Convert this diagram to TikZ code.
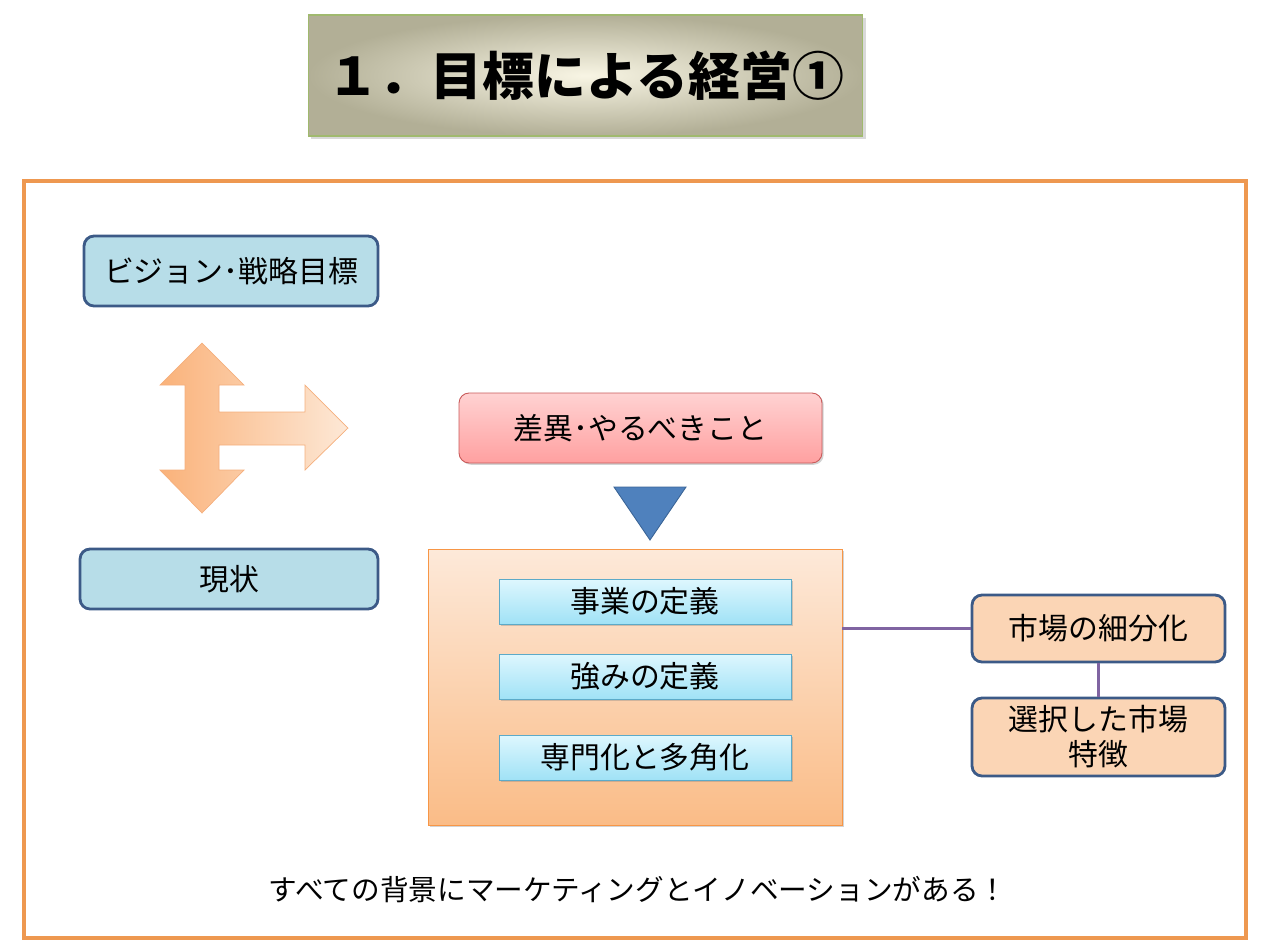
\documentclass[tikz,border=0pt]{standalone}
\usepackage{fontspec}
\setmainfont{Noto Sans CJK JP}
\usetikzlibrary{shadows}

\definecolor{framecol}{RGB}{238,152,80}
\definecolor{navy}{RGB}{60,90,135}
\definecolor{paleblue}{RGB}{183,221,232}
\definecolor{peach}{RGB}{251,213,181}
\definecolor{linkcol}{RGB}{128,100,162}
\definecolor{triblue}{RGB}{79,129,189}

\begin{document}
\begin{tikzpicture}[x=0.02cm, y=-0.02cm,
    panel/.style={draw=navy, line width=1.6pt, rounded corners=0.2cm, inner sep=0pt, font=\fontsize{17}{20}\selectfont},
    item/.style={draw={rgb,255:red,92;green,170;blue,200}, line width=0.5pt, top color={rgb,255:red,222;green,247;blue,254}, bottom color={rgb,255:red,160;green,226;blue,246},
      drop shadow={opacity=0.35, shadow xshift=1pt, shadow yshift=-1pt}, minimum width=5.84cm, minimum height=0.9cm, inner sep=0pt, font=\fontsize{17}{20}\selectfont},
    link/.style={draw=linkcol, line width=2pt}]
  \useasboundingbox (0,0) rectangle (1262,951);
  % title
  \node[draw={rgb,255:red,160;green,185;blue,110}, line width=0.6pt, inner color={rgb,255:red,248;green,245;blue,228}, outer color={rgb,255:red,178;green,175;blue,150},
    drop shadow={opacity=0.3, shadow xshift=1.5pt, shadow yshift=-1.5pt}, minimum width=11.1cm, minimum height=2.42cm, inner sep=0pt]
    (title) at (585.5,75.5) {\fontsize{29.5}{32}\selectfont\bfseries １．目標による経営①};
  % frame
  \draw[framecol, line width=1.8pt] (24,181) rectangle (1246,938);

  \node[panel, fill=paleblue, minimum width=5.88cm, minimum height=1.4cm] (vision) at (231,271) {ビジョン･戦略目標};
  \node[panel, fill=paleblue, minimum width=5.96cm, minimum height=1.2cm] (now) at (229,579) {現状};

  % arrow between vision and now
  \draw[draw={rgb,255:red,245;green,175;blue,125}, line width=0.4pt, left color={rgb,255:red,250;green,178;blue,122}, right color={rgb,255:red,253;green,232;blue,214}]
    (202,343) -- (244,385) -- (219,385) -- (219,412) -- (305,412) -- (305,385) -- (348,428) -- (305,470) -- (305,445) -- (219,445)
    -- (219,470) -- (244,470) -- (202,513) -- (160,470) -- (185,470) -- (185,385) -- (160,385) -- cycle;

  \node[draw={rgb,255:red,200;green,90;blue,90}, line width=0.5pt, rounded corners=0.2cm, top color={rgb,255:red,255;green,210;blue,210}, bottom color={rgb,255:red,255;green,160;blue,160},
    drop shadow={opacity=0.35, shadow xshift=1pt, shadow yshift=-1pt}, minimum width=7.26cm, minimum height=1.4cm, inner sep=0pt, font=\fontsize{17}{20}\selectfont]
    (gap) at (640.5,428) {差異･やるべきこと};
  \draw[draw={rgb,255:red,58;green,100;blue,150}, line width=0.5pt, fill=triblue] (614,487) -- (686,487) -- (650,540) -- cycle;

  \node[draw={rgb,255:red,247;green,150;blue,70}, line width=0.5pt, top color={rgb,255:red,253;green,233;blue,217}, bottom color={rgb,255:red,250;green,188;blue,135},
    drop shadow={opacity=0.35, shadow xshift=1pt, shadow yshift=-1pt}, minimum width=8.28cm, minimum height=5.52cm, inner sep=0pt]
    (core) at (635,687) {};
  \node[item] (biz) at (645,601.5) {事業の定義};
  \node[item] (strength) at (645,676.5) {強みの定義};
  \node[item] (spec) at (645,757.5) {専門化と多角化};

  \node[panel, fill=peach, minimum width=5.06cm, minimum height=1.34cm] (seg) at (1098.5,628.5) {市場の細分化};
  \node[panel, fill=peach, minimum width=5.06cm, minimum height=1.56cm, align=center] (sel) at (1098.5,737) {選択した市場\\特徴};
  \draw[link] (core.east |- seg.west) -- (seg.west);
  \draw[link] (seg.south) -- (sel.north);

  \node[font=\fontsize{16.3}{19}\selectfont] (note) at (638,890) {すべての背景にマーケティングとイノベーションがある！};
\end{tikzpicture}
\end{document}
